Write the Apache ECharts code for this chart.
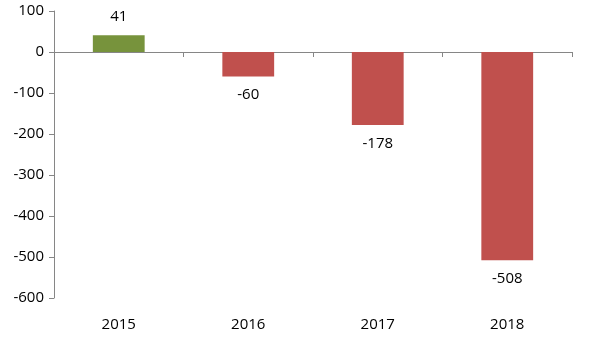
<!DOCTYPE html>
<html><head><meta charset="utf-8">
<script src="https://cdn.jsdelivr.net/npm/echarts@6/dist/echarts.min.js"></script>
<style>html,body{margin:0;padding:0;background:#fff}#c{width:597px;height:351px}</style>
</head><body><div id="c"></div>
<script>
const categories = ['2015', '2016', '2017', '2018'];
const values = [41, -60, -178, -508];
const yTicks = { min: -600, max: 100, interval: 100 };

const FONT = "'Open Sans', 'Noto Sans', sans-serif";
const chart = echarts.init(document.getElementById('c'));
chart.setOption({
  animation: false,
  grid: { left: 54, right: 25, top: 11, bottom: 53 },
  xAxis: [
    {
      type: 'category', data: categories, position: 'bottom',
      axisLine: { onZero: true, lineStyle: { color: '#868686', width: 1 } },
      axisTick: { show: true, length: 5, lineStyle: { color: '#868686' } },
      axisLabel: { show: false }
    },
    {
      type: 'category', data: categories, position: 'bottom',
      axisLine: { show: false, onZero: false }, axisTick: { show: false },
      axisLabel: { color: '#000', fontSize: 15, fontFamily: FONT, margin: 19 }
    }
  ],
  yAxis: {
    type: 'value', min: yTicks.min, max: yTicks.max, interval: yTicks.interval,
    axisLine: { show: true, lineStyle: { color: '#868686' } },
    axisTick: { show: true, length: 5, lineStyle: { color: '#868686' } },
    splitLine: { show: false },
    axisLabel: { color: '#000', fontSize: 15, fontFamily: FONT, margin: 10 }
  },
  series: [{
    type: 'bar', xAxisIndex: 0,
    data: values.map(v => ({
      value: v,
      itemStyle: { color: v >= 0 ? '#77933C' : '#C0504D' },
      label: { position: v >= 0 ? 'top' : 'bottom' }
    })),
    barWidth: '40%',
    label: {
      show: true, color: '#000', fontSize: 15, fontFamily: FONT,
      distance: 11,
      formatter: p => String(p.value)
    }
  }]
});
</script></body></html>
